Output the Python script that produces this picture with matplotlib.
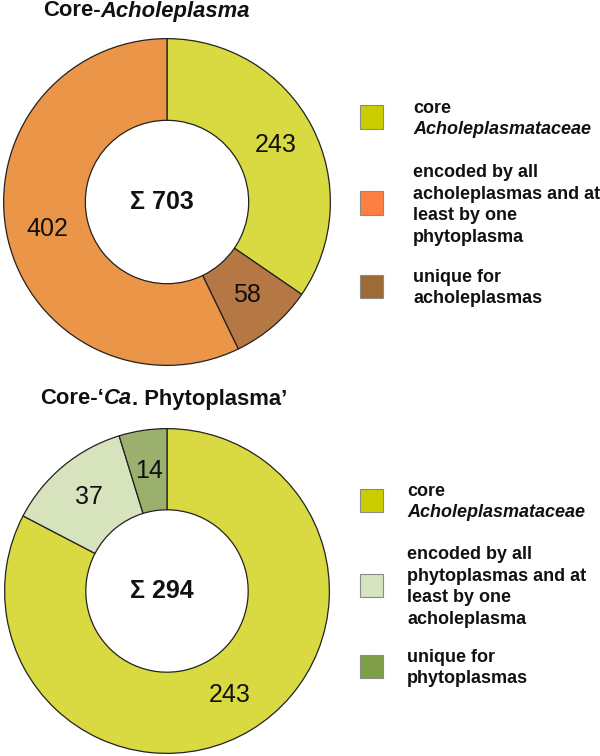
import matplotlib
matplotlib.use("Agg")
import matplotlib.pyplot as plt
from matplotlib.patches import Rectangle
import numpy as np

plt.rcParams['font.family'] = ['Liberation Sans', 'DejaVu Sans']

# ---- data ----
top_values = [243, 58, 402]
top_total = 703
top_pie_colors = ['#D9D942', '#B57844', '#EB9548']
top_legend_colors = ['#CCCC00', '#FF7F40', '#9C6B38']
top_legend_labels = [
    [('core', 'normal'), ('Acholeplasmataceae', 'italic')],
    [('encoded by all', 'normal'), ('acholeplasmas and at', 'normal'),
     ('least by one', 'normal'), ('phytoplasma', 'normal')],
    [('unique for', 'normal'), ('acholeplasmas', 'normal')],
]

bot_values = [243, 37, 14]
bot_total = 294
bot_pie_colors = ['#D9D942', '#D7E3BC', '#9BB06E']
bot_legend_colors = ['#CCCC00', '#D7E4BD', '#7E9F45']
bot_legend_labels = [
    [('core', 'normal'), ('Acholeplasmataceae', 'italic')],
    [('encoded by all', 'normal'), ('phytoplasmas and at', 'normal'),
     ('least by one', 'normal'), ('acholeplasma', 'normal')],
    [('unique for', 'normal'), ('phytoplasmas', 'normal')],
]

W, H = 600, 756
fig = plt.figure(figsize=(W / 100, H / 100), dpi=100)
renderer = fig.canvas.get_renderer()


def fx(px):
    return px / W


def fy(py):
    return 1 - py / H


def draw_donut(values, colors, total, cx, cy, r):
    ax = fig.add_axes([fx(cx - r), fy(cy + r), 2 * r / W, 2 * r / H])
    wedges, _ = ax.pie(values, colors=colors, startangle=90, counterclock=False,
                       radius=1, wedgeprops=dict(width=0.5, edgecolor='#222222',
                                                 linewidth=0.9))
    for w, v in zip(wedges, values):
        ang = np.deg2rad((w.theta1 + w.theta2) / 2)
        ax.text(0.75 * np.cos(ang), 0.75 * np.sin(ang), str(v), ha='center',
                va='center', fontsize=18, color='#111111')
    ax.text(-0.03, 0, '\u03A3 ' + str(total), ha='center', va='center',
            fontsize=18, fontweight='bold', color='#111111')
    ax.set_xlim(-1.01, 1.01)
    ax.set_ylim(-1.01, 1.01)
    ax.set_axis_off()


def rich_line(x, y, pieces, fontsize, va='center'):
    cur = x
    for txt, style in pieces:
        t = fig.text(fx(cur), fy(y), txt, fontsize=fontsize, fontweight='bold',
                     style=style, ha='left', va=va, color='#111111')
        bb = t.get_window_extent(renderer=renderer)
        cur += bb.width


def draw_legend(colors, labels, centers, sq_x, txt_x):
    sq = 23
    line_h = 21.7
    for c, lab, cy in zip(colors, labels, centers):
        fig.patches.append(Rectangle((fx(sq_x), fy(cy + sq / 2)), sq / W, sq / H,
                                     transform=fig.transFigure, facecolor=c,
                                     edgecolor='#8a8a8a', linewidth=0.8))
        n = len(lab)
        for i, (txt, style) in enumerate(lab):
            ly = cy + (i - (n - 1) / 2) * line_h
            fig.text(fx(txt_x), fy(ly), txt, fontsize=13, fontweight='bold',
                     style=style, ha='left', va='center_baseline', color='#111111')


draw_donut(top_values, top_pie_colors, top_total, 167, 202, 165)
draw_donut(bot_values, bot_pie_colors, bot_total, 167, 591, 164)

rich_line(43, 11, [('Core-', 'normal'), ('Acholeplasma', 'italic')], 15.8)
rich_line(40, 399, [('Core-\u2018', 'normal'), ('Ca', 'italic'),
                    ('. Phytoplasma\u2019', 'normal')], 15.8)

draw_legend(top_legend_colors, top_legend_labels, [117, 203, 286], 360, 413)
draw_legend(bot_legend_colors, bot_legend_labels, [500, 585, 666], 360, 407)

fig.savefig('out.png', dpi=100)
